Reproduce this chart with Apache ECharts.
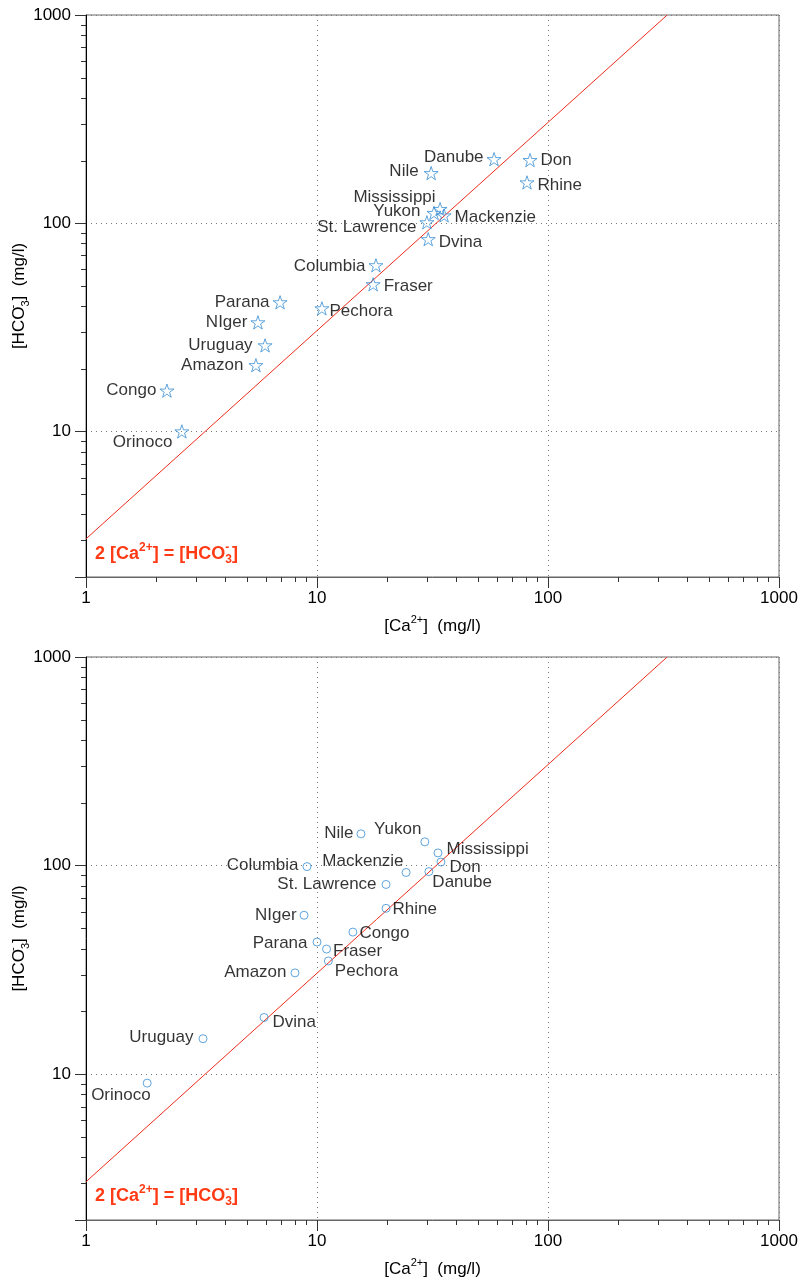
<!DOCTYPE html>
<html><head><meta charset="utf-8">
<script src="https://cdn.jsdelivr.net/npm/echarts@6/dist/echarts.min.js"></script>
<style>html,body{margin:0;padding:0;background:#fff}#c{width:802px;height:1282px}</style>
</head><body><div id="c"></div>
<script>
// ---------------- DATA ----------------
// Top panel (stars)
const topNames = ['Danube','Don','Nile','Rhine','Mississippi','Yukon','Mackenzie','St. Lawrence','Dvina','Columbia','Fraser','Parana','Pechora','NIger','Uruguay','Amazon','Congo','Orinoco'];
const topCa    = [58.4, 83.6, 31.2, 81.1, 34.1, 32.1, 35.5, 29.9, 30.3, 18.0, 17.5, 6.92, 10.5, 5.55, 5.96, 5.44, 2.24, 2.60];
const topHCO3  = [203, 201, 174, 157, 117, 112, 109, 101, 83.8, 62.8, 50.9, 41.7, 39.0, 33.4, 25.9, 20.8, 15.7, 10.0];

// Bottom panel (circles)
const botNames = ['Nile','Yukon','Mississippi','Don','Danube','Mackenzie','Columbia','St. Lawrence','Rhine','NIger','Congo','Parana','Fraser','Pechora','Amazon','Dvina','Uruguay','Orinoco'];
const botCa    = [15.5, 29.3, 33.4, 34.4, 30.5, 24.3, 9.05, 19.9, 19.9, 8.79, 14.3, 10.0, 11.0, 11.2, 8.03, 5.90, 3.21, 1.84];
const botHCO3  = [142, 130, 115, 104, 93.6, 92.7, 98.9, 81.2, 62.4, 57.8, 48.0, 43.0, 39.8, 34.9, 30.6, 18.7, 14.8, 9.06];

// Reference line 2[Ca2+] = [HCO3-] (mg/l)
const refLineCa   = [1, 328];
const refLineHCO3 = [3.05, 1000];

// Axis tick labels and minor tick values
const xTickLabels = ['1','10','100','1000'];
const yTickLabels = ['10','100','1000'];
const minorTickValues = [2,3,4,5,6,7,8,9,20,30,40,50,60,70,80,90,200,300,400,500,600,700,800,900];
const xRange = [1, 1000];
const yRange = [2, 1000];

// ---------------- LAYOUT / STYLE ----------------
const FONT = '"Liberation Sans", Arial, Helvetica, sans-serif';
const BLUE = '#3a8ed3';
const RED = '#ee2c1c';
const EQ_RED = '#ff3a14';
const STAR = 'path://M50,2 L61.2,36.6 L97.6,36.6 L68.2,58 L79.4,92.6 L50,71.2 L20.6,92.6 L31.8,58 L2.4,36.6 L38.8,36.6 Z';

const grids = [
  {left: 86, top: 15, width: 693, height: 562},
  {left: 86, top: 657, width: 693, height: 563}
];

// label placement: [position, dx, dy]
const topLayout = {
  'Danube':['left',0,-2], 'Don':['right',0,0], 'Nile':['left',-2,-2], 'Rhine':['right',0,3],
  'Mississippi':['left',6,-12], 'Yukon':['left',-3,-2], 'Mackenzie':['right',0,2],
  'St. Lawrence':['left',0,5], 'Dvina':['right',0,3], 'Columbia':['left',0,1],
  'Fraser':['right',0,2], 'Parana':['left',0,0], 'Pechora':['right',-3,3],
  'NIger':['left',0,0], 'Uruguay':['left',-2,0], 'Amazon':['left',-2,0],
  'Congo':['left',0,0], 'Orinoco':['left',1,11]
};
const botLayout = {
  'Nile':['left',0,-1], 'Yukon':['left',4,-13], 'Mississippi':['right',1,-4], 'Don':['right',1,5],
  'Danube':['right',-4,11], 'Mackenzie':['left',5,-11], 'Columbia':['left',-1,-1],
  'St. Lawrence':['left',-2,0], 'Rhine':['right',-1,1], 'NIger':['left',0,0],
  'Congo':['right',-1,1], 'Parana':['left',-2,1], 'Fraser':['right',-1,2],
  'Pechora':['right',-1,10], 'Amazon':['left',-1,-1], 'Dvina':['right',1,5],
  'Uruguay':['left',-2,-1], 'Orinoco':['left',11,12]
};

const INK = '#000';
const nameRich = {
  t:   {fontSize: 17, fontFamily: FONT, color: INK, lineHeight: 24},
  sup: {fontSize: 11, fontFamily: FONT, color: INK, lineHeight: 12, verticalAlign: 'top'},
  sub: {fontSize: 11, fontFamily: FONT, color: INK, lineHeight: 12, verticalAlign: 'bottom'},
  m:   {fontSize: 11, fontFamily: FONT, color: INK, lineHeight: 12, verticalAlign: 'top', width: 0.01, align: 'left'}
};
const eqRich = {
  t:   {fontSize: 18, fontFamily: FONT, fontWeight: 'bold', color: EQ_RED, lineHeight: 24},
  sup: {fontSize: 12, fontFamily: FONT, fontWeight: 'bold', color: EQ_RED, lineHeight: 12, verticalAlign: 'top'},
  sub: {fontSize: 12, fontFamily: FONT, fontWeight: 'bold', color: EQ_RED, lineHeight: 12, verticalAlign: 'bottom'},
  m:   {fontSize: 12, fontFamily: FONT, fontWeight: 'bold', color: EQ_RED, lineHeight: 12, verticalAlign: 'top', width: 0.01, align: 'left'}
};

function labelFormatter(list) {
  return function (v) {
    const r = Math.round(v);
    return (Math.abs(v - r) < 1e-6 && list.indexOf(String(r)) >= 0) ? String(r) : '';
  };
}

const GRID_DOT = {type: [1, 4], color: '#7a7a7a', width: 1};
const xAxes = [], yAxes = [], series = [], titles = [];

[0, 1].forEach(function (i) {
  xAxes.push({
    type: 'log', logBase: 10, gridIndex: i, min: xRange[0], max: xRange[1],
    axisLine: {show: true, lineStyle: {color: '#666', width: 1}},
    axisTick: {show: true, length: 11, lineStyle: {color: '#333'}},
    axisLabel: {margin: 13, fontSize: 17, fontFamily: FONT, color: INK, formatter: labelFormatter(xTickLabels)},
    splitLine: {show: true, lineStyle: GRID_DOT},
    name: '{t|[Ca}{sup|2+}{t|]  (mg/l)}', nameLocation: 'middle', nameGap: 37, nameMoveOverlap: false,
    nameTextStyle: {rich: nameRich}
  });
  yAxes.push({
    type: 'log', logBase: 10, gridIndex: i, min: yRange[0], max: yRange[1],
    axisLine: {show: true, lineStyle: {color: '#000', width: 1}},
    axisTick: {show: true, length: 11, lineStyle: {color: '#333'}},
    axisLabel: {margin: 15, fontSize: 17, fontFamily: FONT, color: INK, formatter: labelFormatter(yTickLabels)},
    splitLine: {show: true, lineStyle: GRID_DOT},
    name: '{t|[HCO}{m|-}{sub|3}{t|]  (mg/l)}', nameLocation: 'middle', nameGap: 55, nameRotate: 90, nameMoveOverlap: false,
    nameTextStyle: {rich: nameRich}
  });

  const names = i === 0 ? topNames : botNames;
  const ca = i === 0 ? topCa : botCa;
  const hco = i === 0 ? topHCO3 : botHCO3;
  const lay = i === 0 ? topLayout : botLayout;

  series.push({
    type: 'line', xAxisIndex: i, yAxisIndex: i, silent: true, z: 3,
    symbol: 'none', showSymbol: false,
    lineStyle: {color: RED, width: 1},
    data: refLineCa.map(function (x, k) { return [x, refLineHCO3[k]]; })
  });

  series.push({
    type: 'scatter', xAxisIndex: i, yAxisIndex: i, z: 4,
    symbol: i === 0 ? STAR : 'circle', symbolSize: i === 0 ? 14 : 8, symbolKeepAspect: true,
    itemStyle: {color: 'rgba(255,255,255,0)', borderColor: BLUE, borderWidth: 1},
    label: {show: true, formatter: '{b}', fontSize: 17, fontFamily: FONT, color: INK, distance: 3},
    emphasis: {disabled: true},
    data: names.map(function (n, k) {
      const L = lay[n];
      return {name: n, value: [ca[k], hco[k]], label: {position: L[0], offset: [L[1], L[2]]}};
    })
  });

  // minor ticks on x axis
  series.push({
    type: 'custom', xAxisIndex: i, yAxisIndex: i, silent: true, clip: false, z: 5,
    data: minorTickValues.map(function (v) { return [v, yRange[0]]; }),
    renderItem: function (params, api) {
      const p = api.coord([api.value(0), api.value(1)]);
      const x = Math.round(p[0]) + 0.5;
      return {type: 'line', shape: {x1: x, y1: p[1], x2: x, y2: p[1] + 5}, style: {stroke: '#333', lineWidth: 1}};
    }
  });
  // minor ticks on y axis
  series.push({
    type: 'custom', xAxisIndex: i, yAxisIndex: i, silent: true, clip: false, z: 5,
    data: minorTickValues.map(function (v) { return [xRange[0], v]; }),
    renderItem: function (params, api) {
      const p = api.coord([api.value(0), api.value(1)]);
      const y = Math.round(p[1]) + 0.5;
      return {type: 'line', shape: {x1: p[0], y1: y, x2: p[0] - 5, y2: y}, style: {stroke: '#333', lineWidth: 1}};
    }
  });

  titles.push({
    text: '{t|2 [Ca}{sup|2+}{t|] = [HCO}{m|-}{sub|3}{t|]}',
    left: 95, top: grids[i].top + 527, padding: 0,
    textStyle: {rich: eqRich}
  });
});

const chart = echarts.init(document.getElementById('c'));
chart.setOption({
  animation: false,
  backgroundColor: '#fff',
  title: titles,
  grid: grids.map(function (g) {
    return Object.assign({show: true, borderColor: '#666', borderWidth: 1, backgroundColor: 'transparent',
      containLabel: false, outerBoundsMode: 'none'}, g);
  }),
  xAxis: xAxes,
  yAxis: yAxes,
  series: series
});
</script>
</body></html>
